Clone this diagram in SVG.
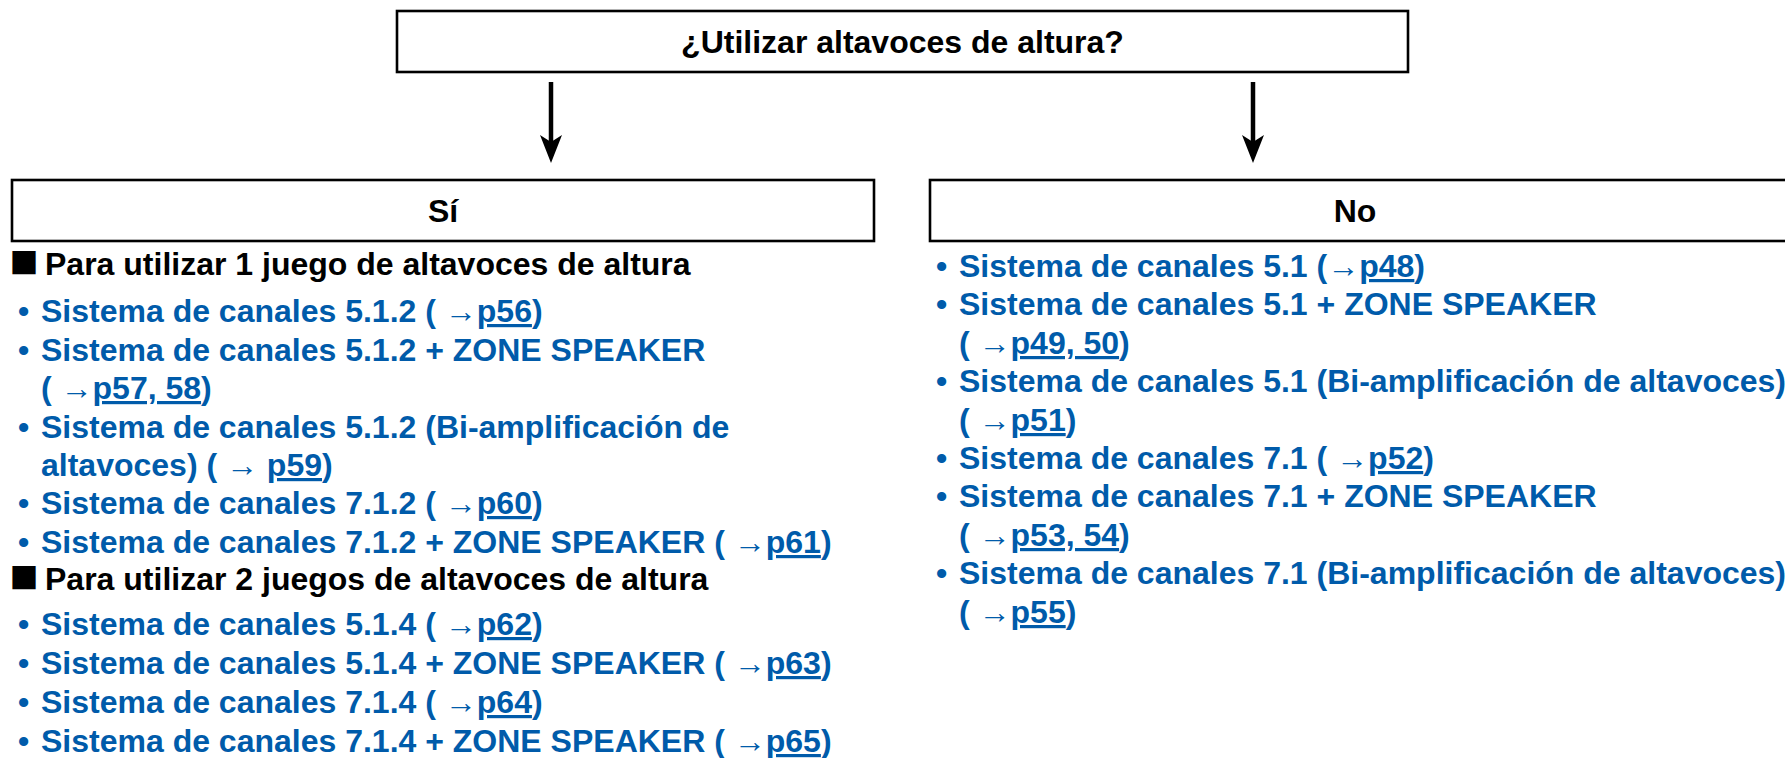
<svg xmlns="http://www.w3.org/2000/svg" width="1785" height="758" viewBox="0 0 1785 758">
<style>
text{font-family:"Liberation Sans",Arial,Helvetica,sans-serif;font-weight:bold;font-size:32px}
.box{fill:#fff;stroke:#000;stroke-width:2.6}
.hd{fill:#000;text-anchor:middle}
.sec{fill:#000}
.sq{fill:#000;font-size:48px}
.it{fill:#005BAA}
.u{text-decoration:underline}
.conn{stroke:#000;stroke-width:4.5;fill:none}
</style>
<defs>
<marker id="ah" markerUnits="userSpaceOnUse" viewBox="0 0 28 22" refX="15" refY="11" markerWidth="28" markerHeight="22" orient="auto">
<path d="M0,0 L7,11 L0,22 L28,11 Z" fill="#000"/>
</marker>
</defs>
<g id="connectors">
<line class="conn" x1="551" y1="82" x2="551" y2="150" marker-end="url(#ah)"/>
<line class="conn" x1="1253" y1="82" x2="1253" y2="150" marker-end="url(#ah)"/>
</g>
<g id="question">
<rect class="box" x="397" y="11" width="1011" height="61"/>
<text class="hd" x="902.5" y="53">¿Utilizar altavoces de altura?</text>
</g>
<g id="si">
<rect class="box" x="12" y="180" width="862" height="61"/>
<text class="hd" x="443" y="222">Sí</text>
<g id="si-list">
<text class="sq" x="9.5" y="277">■</text>
<text class="sec" x="45" y="275">Para utilizar 1 juego de altavoces de altura</text>
<text class="it" x="18" y="322">•</text><text class="it" x="41" y="322">Sistema de canales 5.1.2 ( →<tspan class="u">p56</tspan>)</text>
<text class="it" x="18" y="361">•</text><text class="it" x="41" y="361">Sistema de canales 5.1.2 + ZONE SPEAKER</text>
<text class="it" x="41" y="399">( →<tspan class="u">p57, 58</tspan>)</text>
<text class="it" x="18" y="438">•</text><text class="it" x="41" y="438">Sistema de canales 5.1.2 (Bi-amplificación de</text>
<text class="it" x="41" y="476">altavoces) ( → <tspan class="u">p59</tspan>)</text>
<text class="it" x="18" y="514">•</text><text class="it" x="41" y="514">Sistema de canales 7.1.2 ( →<tspan class="u">p60</tspan>)</text>
<text class="it" x="18" y="553">•</text><text class="it" x="41" y="553">Sistema de canales 7.1.2 + ZONE SPEAKER ( →<tspan class="u">p61</tspan>)</text>
<text class="sq" x="9.5" y="592">■</text>
<text class="sec" x="45" y="590">Para utilizar 2 juegos de altavoces de altura</text>
<text class="it" x="18" y="635">•</text><text class="it" x="41" y="635">Sistema de canales 5.1.4 ( →<tspan class="u">p62</tspan>)</text>
<text class="it" x="18" y="674">•</text><text class="it" x="41" y="674">Sistema de canales 5.1.4 + ZONE SPEAKER ( →<tspan class="u">p63</tspan>)</text>
<text class="it" x="18" y="713">•</text><text class="it" x="41" y="713">Sistema de canales 7.1.4 ( →<tspan class="u">p64</tspan>)</text>
<text class="it" x="18" y="752">•</text><text class="it" x="41" y="752">Sistema de canales 7.1.4 + ZONE SPEAKER ( →<tspan class="u">p65</tspan>)</text>
</g>
</g>
<g id="no">
<rect class="box" x="930" y="180" width="862" height="61"/>
<text class="hd" x="1355" y="222">No</text>
<g id="no-list">
<text class="it" x="936" y="277">•</text><text class="it" x="959" y="277">Sistema de canales 5.1 (→<tspan class="u">p48</tspan>)</text>
<text class="it" x="936" y="315">•</text><text class="it" x="959" y="315">Sistema de canales 5.1 + ZONE SPEAKER</text>
<text class="it" x="959" y="354">( →<tspan class="u">p49, 50</tspan>)</text>
<text class="it" x="936" y="392">•</text><text class="it" x="959" y="392">Sistema de canales 5.1 (Bi-amplificación de altavoces)</text>
<text class="it" x="959" y="431">( →<tspan class="u">p51</tspan>)</text>
<text class="it" x="936" y="469">•</text><text class="it" x="959" y="469">Sistema de canales 7.1 ( →<tspan class="u">p52</tspan>)</text>
<text class="it" x="936" y="507">•</text><text class="it" x="959" y="507">Sistema de canales 7.1 + ZONE SPEAKER</text>
<text class="it" x="959" y="546">( →<tspan class="u">p53, 54</tspan>)</text>
<text class="it" x="936" y="584">•</text><text class="it" x="959" y="584">Sistema de canales 7.1 (Bi-amplificación de altavoces)</text>
<text class="it" x="959" y="623">( →<tspan class="u">p55</tspan>)</text>
</g>
</g>
</svg>
